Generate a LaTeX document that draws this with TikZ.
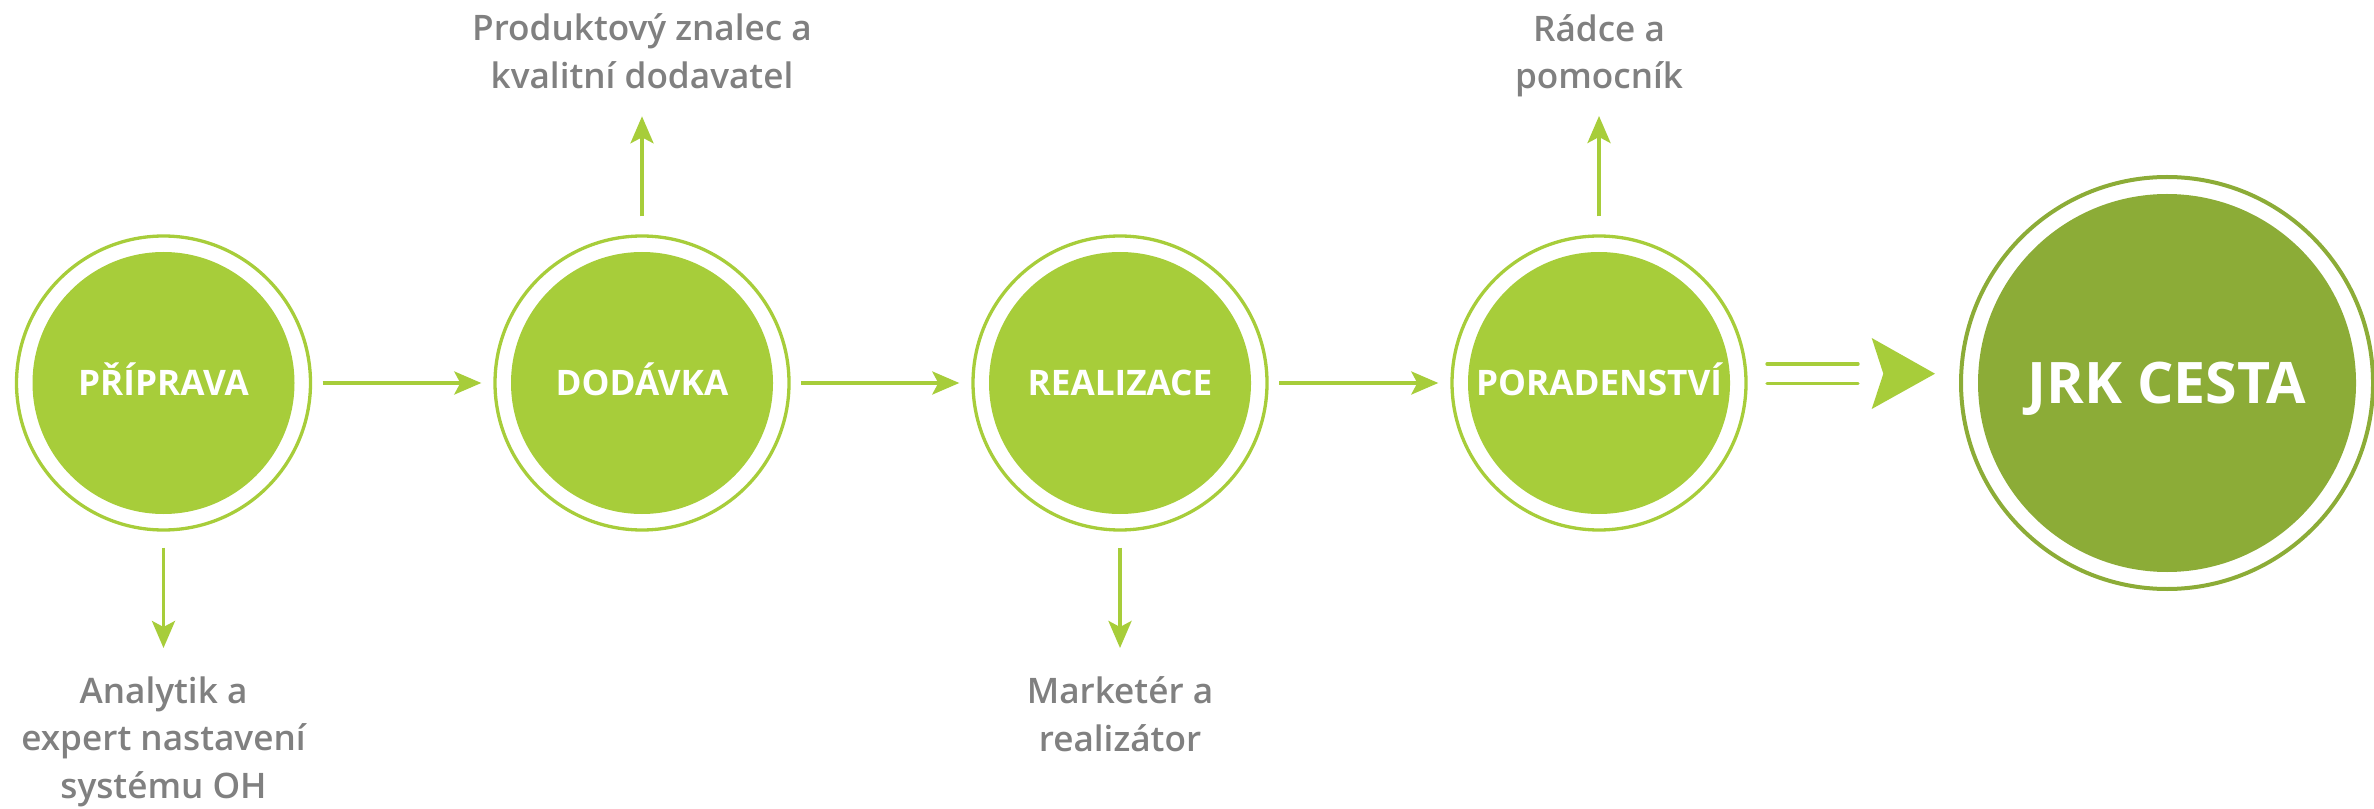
\documentclass[tikz,border=0pt]{standalone}
\usepackage{fontspec}
\setmainfont{Open Sans}
\newfontfamily\semibold{Open Sans Semibold}
\usepackage{tikz}
\usetikzlibrary{arrows.meta}
\definecolor{leafgreen}{HTML}{A7CD3A}
\definecolor{olivegreen}{HTML}{8CAC37}
\definecolor{labelgray}{HTML}{808080}
\newcommand{\drawRing}[3]{
    \draw[#3] (#1) circle (#2)
}
\tikzset{
    phase/.style={circle, fill=leafgreen, minimum size=2.62cm, inner sep=0pt, text=white,
        font=\bfseries\fontsize{10}{12}\selectfont, text height=7.15pt, text depth=0pt},
    goal/.style={circle, fill=olivegreen, minimum size=3.78cm, inner sep=0pt, text=white,
        font=\bfseries\fontsize{16.3}{19}\selectfont, text height=11.6pt, text depth=0pt},
    ring/.style={leafgreen, line width=0.033cm},
    role/.style={align=center, inner sep=0pt, text=labelgray, font=\semibold\fontsize{10}{13.5}\selectfont},
    flow/.style={draw=leafgreen, line width=0.036cm, -{Stealth[length=2.7mm,width=2.3mm,inset=0.6mm]}},
    bar/.style={draw=leafgreen, line width=0.034cm, line cap=round}
}

\begin{document}
\begin{tikzpicture}
            \useasboundingbox (0,0) rectangle (23.74,8.08);

            \node[phase] (prip) at (1.635,4.25) {PŘÍPRAVA};
            \node[phase] (dod) at (6.42,4.25) {DODÁVKA};
            \node[phase] (real) at (11.20,4.25) {REALIZACE};
            \node[phase] (por) at (15.99,4.25) {PORADENSTVÍ};
            \node[goal] (jrk) at (21.67,4.25) {JRK CESTA};

            \foreach \n in {prip,dod,real,por} {
                \drawRing{\n}{1.47}{ring};
            }
            \drawRing{jrk}{2.06}{olivegreen, line width=0.04cm};

            \node[role, anchor=north] (analytik) at (1.635,1.32) {Analytik a\\expert nastavení\\systému OH};
            \node[role, anchor=south] (znalec) at (6.42,7.187) {Produktový znalec a\\kvalitní dodavatel};
            \node[role, anchor=north] (marketer) at (11.20,1.32) {Marketér a\\realizátor};
            \node[role, anchor=south] (radce) at (15.99,7.10) {Rádce a\\pomocník};

            \draw[flow, shorten <=2.75mm, shorten >=2.9mm] (prip) -- (dod);
            \draw[flow, shorten <=2.75mm, shorten >=2.9mm] (dod) -- (real);
            \draw[flow, shorten <=2.75mm, shorten >=2.9mm] (real) -- (por);

            \draw[flow, shorten <=3.3mm, shorten >=2.8mm] (prip) -- (analytik);
            \draw[flow, shorten <=3.5mm, shorten >=2.7mm] (dod) -- (znalec);
            \draw[flow, shorten <=3.3mm, shorten >=2.8mm] (real) -- (marketer);
            \draw[flow, shorten <=3.5mm, shorten >=1.8mm] (por) -- (radce);

            % double arrow to the goal
            \coordinate (eq) at (17.67,4.343);
            \draw[bar] ([yshift=0.097cm]eq) -- ++(0.91,0);
            \draw[bar] ([yshift=-0.097cm]eq) -- ++(0.91,0);
            \fill[leafgreen] (18.717,4.70) -- (19.35,4.343) -- (18.717,3.99) -- (18.833,4.343) -- cycle;
\end{tikzpicture}
\end{document}
